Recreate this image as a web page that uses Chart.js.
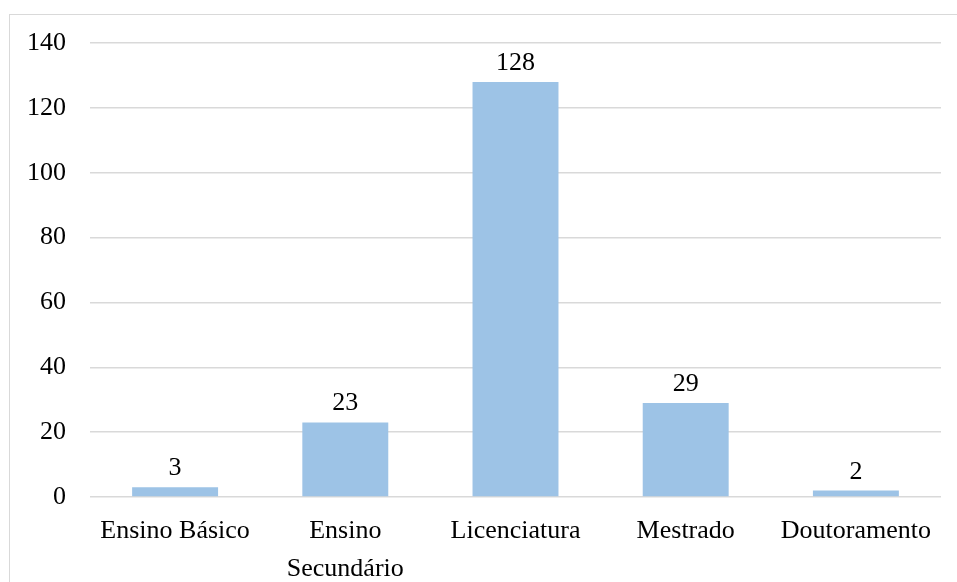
<!DOCTYPE html>
<html>
  <head>
    <title>Habilitações</title>
    <script src="https://cdn.jsdelivr.net/npm/chart.js"></script>
    <style>
      body {
        margin: 0;
        background: #ffffff;
        overflow: hidden;
      }

      .frame {
        position: absolute;
        left: 9px;
        top: 14px;
        width: 1000px;
        height: 700px;
        border: 1px solid #d9d9d9;
      }

      .chart-wrapper {
        position: absolute;
        left: 0;
        top: 0;
        width: 957px;
        height: 582px;
      }
    </style>
  </head>
  <body>
    <div class="frame"></div>
    <div class="chart-wrapper">
      <canvas id="eduChart" width="957" height="582"></canvas>
    </div>

    <script>
      var categories = [
        "Ensino Básico",
        ["Ensino", "Secundário"],
        "Licenciatura",
        "Mestrado",
        "Doutoramento",
      ];
      var values = [3, 23, 128, 29, 2];
      var yTicks = [0, 20, 40, 60, 80, 100, 120, 140];

      var fontFamily = "'Liberation Serif', 'Times New Roman', serif";

      // desenha o valor por cima de cada barra
      const valueLabels = {
        id: "valueLabels",
        afterDatasetsDraw(chart) {
          const ctx = chart.ctx;
          const meta = chart.getDatasetMeta(0);
          ctx.save();
          ctx.font = "26px " + fontFamily;
          ctx.fillStyle = "#000000";
          ctx.textAlign = "center";
          ctx.textBaseline = "alphabetic";
          meta.data.forEach(function (bar, i) {
            ctx.fillText(values[i], bar.x, bar.y - 12);
          });
          ctx.restore();
        },
      };

      const ctx = document.getElementById("eduChart");

      new Chart(ctx, {
        type: "bar",
        data: {
          labels: categories,
          datasets: [
            {
              data: values,
              backgroundColor: "#9dc3e6",
              borderWidth: 0,
              barPercentage: 0.505,
              categoryPercentage: 1,
            },
          ],
        },
        options: {
          responsive: false,
          animation: false,
          layout: {
            padding: { left: 0, right: 16, top: 43, bottom: 0 },
          },
          plugins: {
            legend: { display: false },
            tooltip: { enabled: false },
          },
          scales: {
            x: {
              afterFit: function (scale) {
                scale.height = 85;
              },
              grid: { display: false, drawTicks: false },
              border: { display: false },
              ticks: {
                color: "#000000",
                font: { family: fontFamily, size: 26, lineHeight: 1.46 },
                padding: 15,
                maxRotation: 0,
                autoSkip: false,
              },
            },
            y: {
              min: 0,
              max: 140,
              afterFit: function (scale) {
                scale.width = 90;
              },
              afterBuildTicks: function (scale) {
                scale.ticks = yTicks.map(function (v) {
                  return { value: v };
                });
              },
              grid: { color: "#d9d9d9", lineWidth: 1.5, drawTicks: false },
              border: { display: false },
              ticks: {
                color: "#000000",
                font: { family: fontFamily, size: 26 },
                padding: 24,
              },
            },
          },
        },
        plugins: [valueLabels],
      });
    </script>
  </body>
</html>
